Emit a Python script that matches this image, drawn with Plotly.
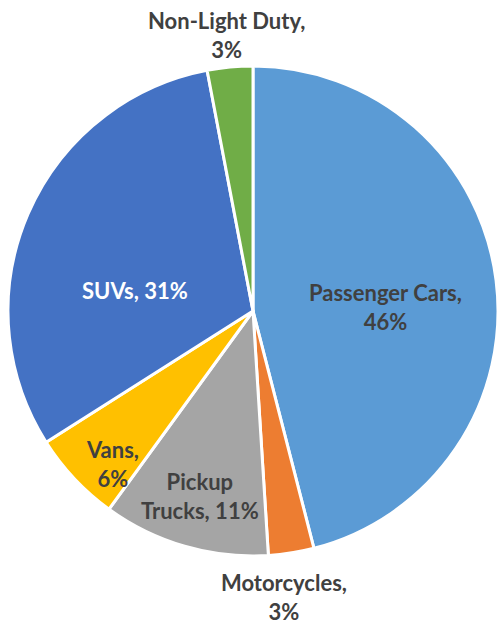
import plotly.graph_objects as go

# vehicle share by type, clockwise from 12 o'clock
categories = ['Passenger Cars', 'Motorcycles', 'Pickup Trucks', 'Vans', 'SUVs', 'Non-Light Duty']
shares = [46, 3, 11, 6, 31, 3]
# how each label is broken over lines in the original
label_text = ['Passenger Cars,<br>', 'Motorcycles,<br>', 'Pickup<br>Trucks, ', 'Vans,<br>', 'SUVs, ', 'Non-Light Duty,<br>']

colors = ['#5B9BD5', '#ED7D31', '#A5A5A5', '#FFC000', '#4472C4', '#70AD47']
text_colors = ['#404040', '#404040', '#404040', '#404040', '#FFFFFF', '#404040']
# label centres in pixels (Excel-style placement, done by hand)
label_px = [(385, 307), (284, 597), (200, 496), (112, 464), (135, 290), (226, 35)]

W, H = 498, 625
FONT = 'Lato'

fig = go.Figure(
    go.Pie(
        labels=categories,
        values=shares,
        textinfo='none',
        sort=False,
        direction='clockwise',
        rotation=0,
        marker=dict(colors=colors, line=dict(color='white', width=3)),
        hoverinfo='label+percent',
        domain=dict(x=[8 / W, 1], y=[1 - 557 / H, 1 - 65 / H]),
    )
)

for i, (px_x, px_y) in enumerate(label_px):
    fig.add_annotation(
        x=px_x / W, y=1 - px_y / H, xref='paper', yref='paper',
        xanchor='center', yanchor='middle',
        text=f'{label_text[i]}{shares[i]}%',
        showarrow=False,
        font=dict(family=FONT, size=22, color=text_colors[i], weight='bold'),
        align='center',
    )

fig.update_layout(
    width=W,
    height=H,
    margin=dict(l=0, r=0, t=0, b=0),
    showlegend=False,
    paper_bgcolor='white',
)

# drop the default body margin so the chart sits at the page origin
fig.write_html(
    'out.html',
    config={'displayModeBar': False},
    post_script='document.body.style.margin = "0";',
)
